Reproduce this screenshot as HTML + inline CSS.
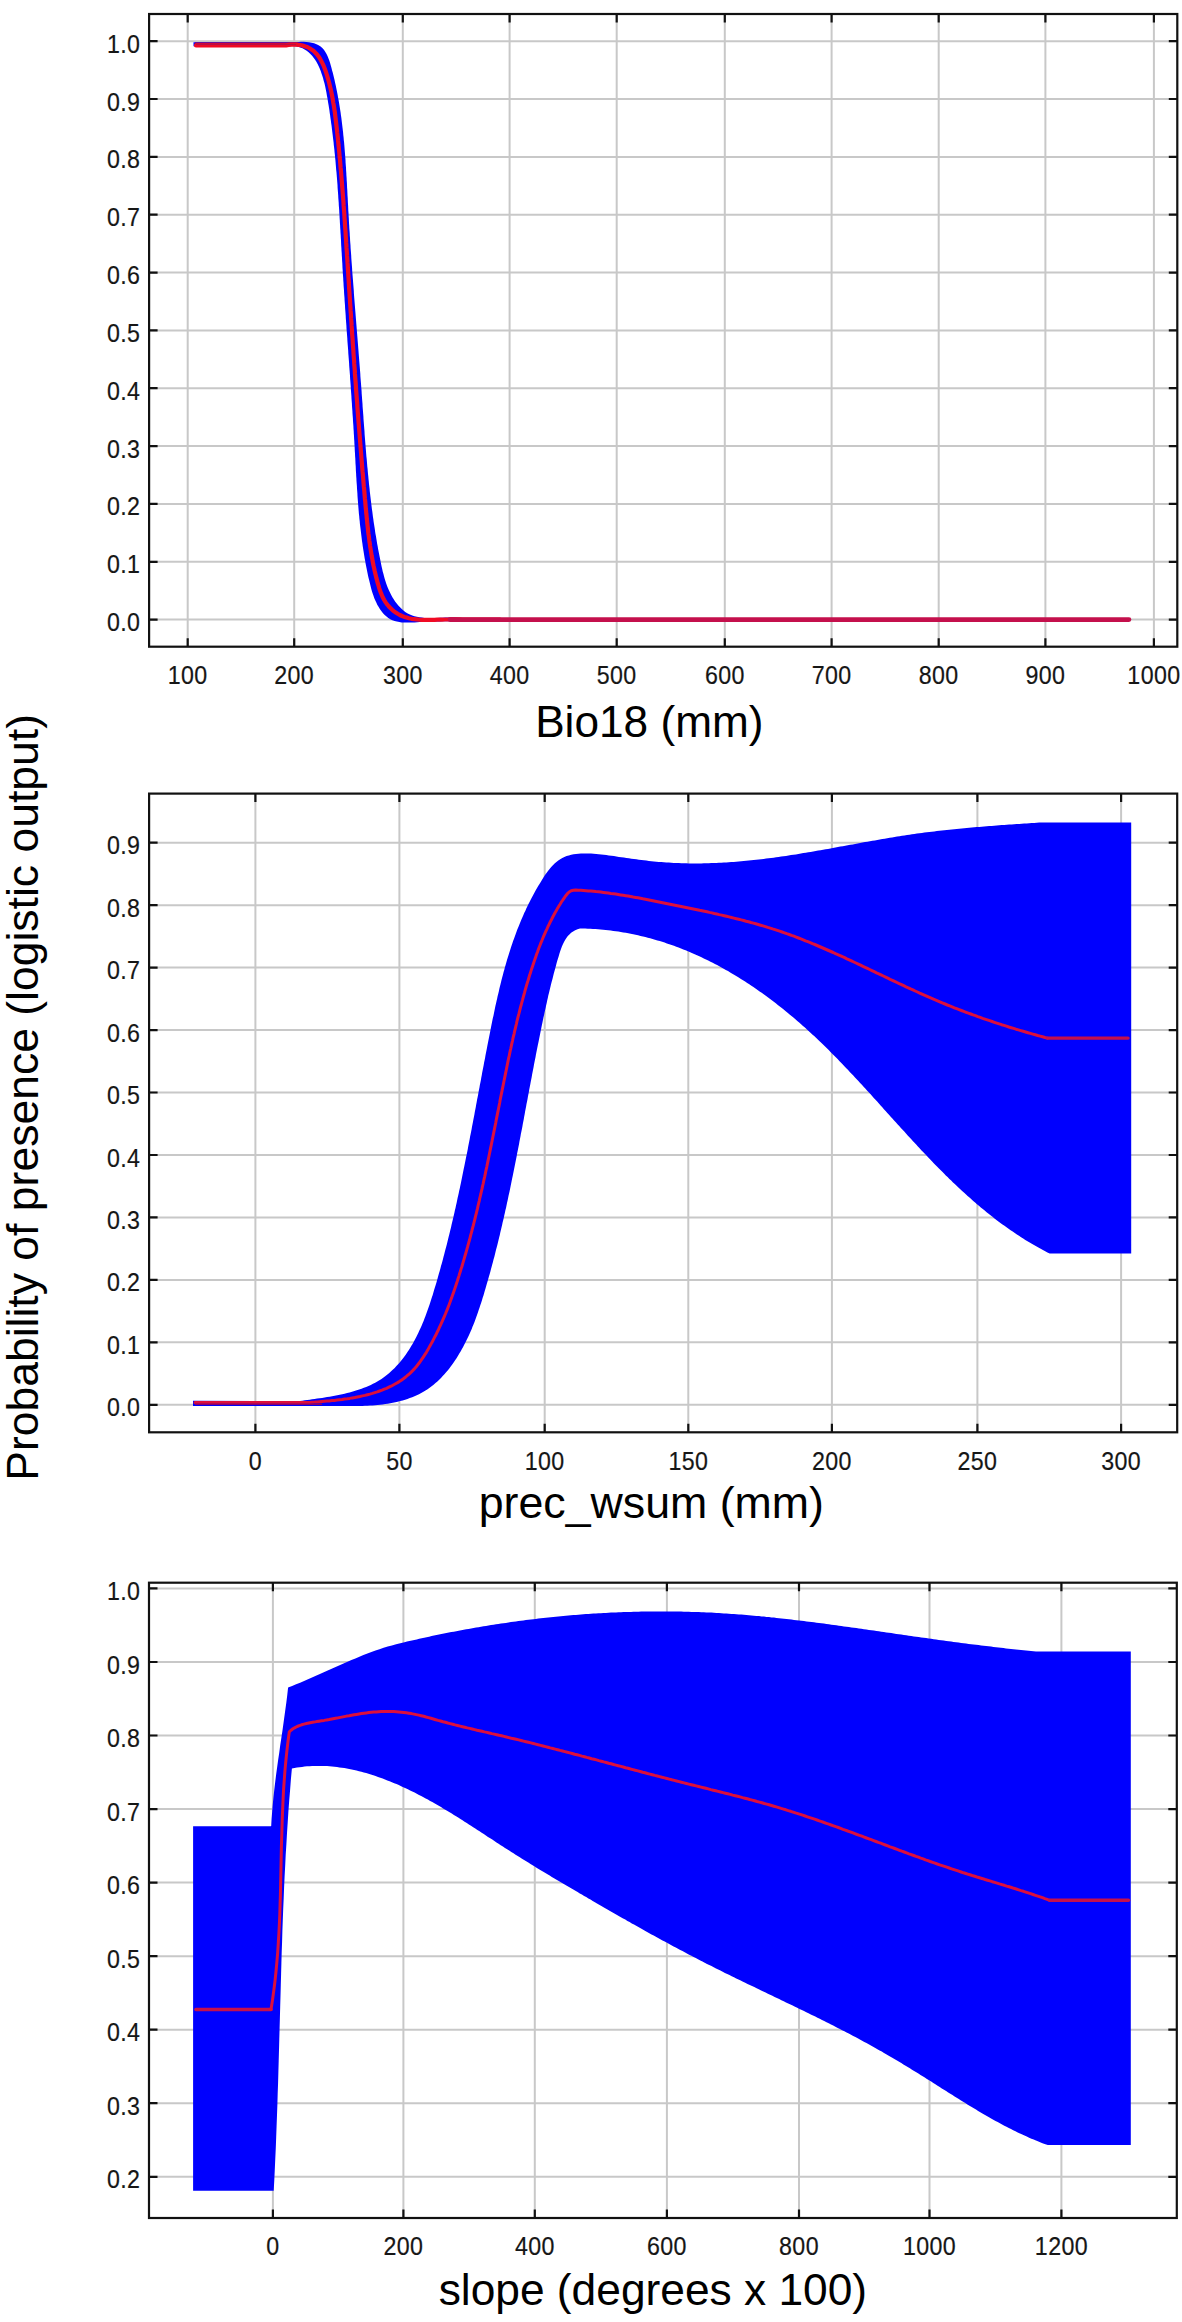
<!DOCTYPE html>
<html><head><meta charset="utf-8"><title>Response curves</title>
<style>html,body{margin:0;padding:0;background:#fff;width:1182px;height:2322px;overflow:hidden}svg{display:block}</style>
</head><body>
<svg width="1182" height="2322" viewBox="0 0 1182 2322">
<rect width="1182" height="2322" fill="#fff"/>
<g stroke="#c8c8c8" stroke-width="2"><line x1="187.7" y1="15" x2="187.7" y2="645.7"/><line x1="294.2" y1="15" x2="294.2" y2="645.7"/><line x1="402.8" y1="15" x2="402.8" y2="645.7"/><line x1="509.6" y1="15" x2="509.6" y2="645.7"/><line x1="616.7" y1="15" x2="616.7" y2="645.7"/><line x1="724.8" y1="15" x2="724.8" y2="645.7"/><line x1="831.6" y1="15" x2="831.6" y2="645.7"/><line x1="938.7" y1="15" x2="938.7" y2="645.7"/><line x1="1045.4" y1="15" x2="1045.4" y2="645.7"/><line x1="1153.9" y1="15" x2="1153.9" y2="645.7"/><line x1="150.1" y1="619.6" x2="1176.3" y2="619.6"/><line x1="150.1" y1="561.8" x2="1176.3" y2="561.8"/><line x1="150.1" y1="503.9" x2="1176.3" y2="503.9"/><line x1="150.1" y1="446.1" x2="1176.3" y2="446.1"/><line x1="150.1" y1="388.2" x2="1176.3" y2="388.2"/><line x1="150.1" y1="330.4" x2="1176.3" y2="330.4"/><line x1="150.1" y1="272.6" x2="1176.3" y2="272.6"/><line x1="150.1" y1="214.7" x2="1176.3" y2="214.7"/><line x1="150.1" y1="156.9" x2="1176.3" y2="156.9"/><line x1="150.1" y1="99" x2="1176.3" y2="99"/><line x1="150.1" y1="41.2" x2="1176.3" y2="41.2"/></g>
<g stroke="#c8c8c8" stroke-width="2"><line x1="255.4" y1="794.6" x2="255.4" y2="1431.3"/><line x1="399.4" y1="794.6" x2="399.4" y2="1431.3"/><line x1="544.7" y1="794.6" x2="544.7" y2="1431.3"/><line x1="688.3" y1="794.6" x2="688.3" y2="1431.3"/><line x1="831.9" y1="794.6" x2="831.9" y2="1431.3"/><line x1="977.4" y1="794.6" x2="977.4" y2="1431.3"/><line x1="1121.1" y1="794.6" x2="1121.1" y2="1431.3"/><line x1="150.1" y1="1404.8" x2="1176.2" y2="1404.8"/><line x1="150.1" y1="1342.3" x2="1176.2" y2="1342.3"/><line x1="150.1" y1="1279.9" x2="1176.2" y2="1279.9"/><line x1="150.1" y1="1217.4" x2="1176.2" y2="1217.4"/><line x1="150.1" y1="1155" x2="1176.2" y2="1155"/><line x1="150.1" y1="1092.5" x2="1176.2" y2="1092.5"/><line x1="150.1" y1="1030.1" x2="1176.2" y2="1030.1"/><line x1="150.1" y1="967.6" x2="1176.2" y2="967.6"/><line x1="150.1" y1="905.2" x2="1176.2" y2="905.2"/><line x1="150.1" y1="842.7" x2="1176.2" y2="842.7"/></g>
<g stroke="#c8c8c8" stroke-width="2"><line x1="272.9" y1="1583.7" x2="272.9" y2="2217"/><line x1="403.4" y1="1583.7" x2="403.4" y2="2217"/><line x1="534.8" y1="1583.7" x2="534.8" y2="2217"/><line x1="666.9" y1="1583.7" x2="666.9" y2="2217"/><line x1="799" y1="1583.7" x2="799" y2="2217"/><line x1="929.5" y1="1583.7" x2="929.5" y2="2217"/><line x1="1061.4" y1="1583.7" x2="1061.4" y2="2217"/><line x1="150" y1="2176.8" x2="1175.8" y2="2176.8"/><line x1="150" y1="2103.2" x2="1175.8" y2="2103.2"/><line x1="150" y1="2029.7" x2="1175.8" y2="2029.7"/><line x1="150" y1="1956.2" x2="1175.8" y2="1956.2"/><line x1="150" y1="1882.6" x2="1175.8" y2="1882.6"/><line x1="150" y1="1809.1" x2="1175.8" y2="1809.1"/><line x1="150" y1="1735.5" x2="1175.8" y2="1735.5"/><line x1="150" y1="1662" x2="1175.8" y2="1662"/><line x1="150" y1="1588.4" x2="1175.8" y2="1588.4"/></g>
<path d="M193.5 42.3 L296 42.3 L298.5 42 L301.1 41.8 L303.8 41.8 L306.4 41.9 L309.1 42.2 L311.6 42.7 L314.1 43.3 L316.5 44.2 L318.6 45.3 L320.6 46.6 L322.3 48.1 L323.9 49.8 L325.2 51.7 L326.4 53.7 L327.5 55.9 L328.4 58.2 L329.3 60.5 L330.1 62.9 L330.8 65.4 L331.5 67.9 L332.1 70.4 L332.8 72.8 L333.4 75.3 L334 77.8 L334.6 80.3 L335.1 82.7 L335.7 85.2 L336.2 87.7 L336.7 90.2 L337.2 92.7 L337.7 95.2 L338.1 97.7 L338.6 100.2 L339 102.6 L339.4 105.1 L339.8 107.6 L340.2 110.1 L340.6 112.6 L340.9 115.1 L341.3 117.6 L341.6 120.1 L341.9 122.6 L342.2 125.1 L342.5 127.6 L342.8 130.1 L343.1 132.6 L343.3 135.1 L343.6 137.6 L343.8 140.1 L344.1 142.6 L344.3 145.1 L344.5 147.6 L344.7 150.1 L344.9 152.6 L345.1 155.1 L345.3 157.6 L345.5 160.1 L345.6 162.7 L345.8 165.2 L346 167.7 L346.1 170.2 L346.3 172.7 L346.4 175.2 L346.6 177.7 L346.7 180.2 L346.9 182.7 L347 185.2 L347.1 187.8 L347.3 190.3 L347.4 192.8 L347.5 195.3 L347.7 197.8 L347.8 200.3 L347.9 202.8 L348.1 205.4 L348.2 207.9 L348.3 210.4 L348.5 212.9 L348.6 215.4 L348.8 217.9 L348.9 220.4 L349 222.9 L349.2 225.5 L349.3 228 L349.5 230.5 L349.7 233 L349.8 235.5 L350 238 L350.1 240.5 L350.3 243.1 L350.5 245.6 L350.6 248.1 L350.8 250.6 L351 253.1 L351.2 255.6 L351.3 258.1 L351.5 260.7 L351.7 263.2 L351.9 265.7 L352.1 268.2 L352.2 270.7 L352.4 273.2 L352.6 275.7 L352.8 278.3 L353 280.8 L353.2 283.3 L353.4 285.8 L353.6 288.3 L353.8 290.8 L353.9 293.3 L354.1 295.9 L354.3 298.4 L354.5 300.9 L354.7 303.4 L354.9 305.9 L355.1 308.4 L355.3 310.9 L355.5 313.5 L355.7 316 L355.9 318.5 L356.1 321 L356.3 323.5 L356.5 326 L356.7 328.5 L356.9 331 L357.1 333.6 L357.3 336.1 L357.5 338.6 L357.7 341.1 L357.9 343.6 L358.1 346.1 L358.3 348.6 L358.5 351.1 L358.7 353.7 L358.9 356.2 L359.1 358.7 L359.3 361.2 L359.5 363.7 L359.7 366.2 L359.9 368.7 L360.1 371.2 L360.3 373.8 L360.4 376.3 L360.6 378.8 L360.8 381.3 L361 383.8 L361.2 386.3 L361.4 388.8 L361.6 391.3 L361.7 393.8 L361.9 396.3 L362.1 398.9 L362.3 401.4 L362.5 403.9 L362.6 406.4 L362.8 408.9 L363 411.4 L363.2 413.9 L363.4 416.4 L363.5 418.9 L363.7 421.4 L363.9 423.9 L364.1 426.5 L364.3 429 L364.5 431.5 L364.6 434 L364.8 436.5 L365 439 L365.2 441.5 L365.4 444 L365.6 446.5 L365.8 449 L366 451.5 L366.2 454 L366.4 456.5 L366.7 459 L366.9 461.5 L367.1 464 L367.3 466.5 L367.6 469 L367.8 471.5 L368 474 L368.3 476.6 L368.5 479.1 L368.8 481.6 L369 484.1 L369.3 486.6 L369.6 489.1 L369.8 491.6 L370.1 494.1 L370.4 496.6 L370.7 499.1 L371 501.6 L371.3 504.1 L371.6 506.6 L371.9 509.1 L372.3 511.6 L372.6 514.1 L372.9 516.5 L373.3 519 L373.6 521.5 L374 524 L374.4 526.5 L374.8 529 L375.1 531.5 L375.5 534 L376 536.5 L376.4 539 L376.8 541.5 L377.2 544 L377.7 546.5 L378.1 549 L378.6 551.5 L379.1 554 L379.6 556.5 L380.1 558.9 L380.6 561.4 L381.1 563.9 L381.6 566.4 L382.2 568.9 L382.7 571.4 L383.4 573.8 L384 576.3 L384.7 578.7 L385.4 581.1 L386.2 583.5 L387.1 585.9 L388 588.2 L389 590.5 L390.1 592.7 L391.2 595 L392.4 597.2 L393.7 599.3 L395.1 601.4 L396.7 603.5 L398.3 605.4 L400 607.3 L401.8 609.1 L403.7 610.7 L405.6 612.2 L407.7 613.5 L409.9 614.6 L412.2 615.5 L414.5 616.2 L416.9 616.8 L419.3 617.3 L421.8 617.6 L424.4 617.9 L426.9 618 L429.5 618.1 L432.2 618.1 L434.8 618 L437.4 617.9 L440.1 617.8 L442.7 617.7 L445.3 617.6 L447.8 617.5 L450.4 617.5 L452.9 617.5 L455.3 617.6 L457.7 617.7 L460 618 L460 621.4 L457.5 621.4 L455 621.3 L452.4 621.3 L449.9 621.3 L447.5 621.3 L445 621.3 L442.5 621.3 L440 621.4 L437.5 621.4 L435 621.5 L432.5 621.6 L430 621.6 L427.4 621.7 L424.9 621.9 L422.3 622 L419.7 622.1 L417.1 622.3 L414.5 622.4 L411.9 622.6 L409.3 622.6 L406.8 622.6 L404.2 622.6 L401.7 622.4 L399.3 622.1 L396.9 621.6 L394.6 621 L392.4 620.2 L390.3 619.2 L388.3 618 L386.5 616.5 L384.7 614.9 L383 613.2 L381.5 611.3 L380 609.2 L378.7 607.1 L377.4 604.9 L376.3 602.6 L375.2 600.3 L374.2 597.9 L373.4 595.5 L372.5 593.1 L371.8 590.7 L371.1 588.3 L370.5 585.8 L369.9 583.3 L369.3 580.8 L368.7 578.4 L368.1 575.9 L367.6 573.4 L367.1 570.9 L366.6 568.5 L366.1 566 L365.6 563.5 L365.2 561 L364.7 558.5 L364.3 556 L363.9 553.6 L363.5 551.1 L363.1 548.6 L362.7 546.1 L362.4 543.6 L362 541.1 L361.7 538.6 L361.4 536.1 L361.1 533.6 L360.8 531.1 L360.5 528.6 L360.2 526.2 L359.9 523.7 L359.7 521.2 L359.4 518.7 L359.2 516.2 L358.9 513.7 L358.7 511.2 L358.5 508.7 L358.3 506.2 L358.1 503.7 L357.9 501.2 L357.7 498.7 L357.5 496.1 L357.4 493.6 L357.2 491.1 L357 488.6 L356.9 486.1 L356.7 483.6 L356.5 481.1 L356.4 478.6 L356.2 476.1 L356.1 473.6 L355.9 471.1 L355.8 468.6 L355.7 466.1 L355.5 463.6 L355.4 461.1 L355.3 458.6 L355.1 456.1 L355 453.5 L354.8 451 L354.7 448.5 L354.6 446 L354.4 443.5 L354.3 441 L354.1 438.5 L354 436 L353.8 433.5 L353.7 431 L353.5 428.5 L353.4 426 L353.2 423.5 L353 421 L352.9 418.4 L352.7 415.9 L352.5 413.4 L352.4 410.9 L352.2 408.4 L352 405.9 L351.9 403.4 L351.7 400.9 L351.5 398.4 L351.4 395.9 L351.2 393.4 L351 390.9 L350.8 388.4 L350.7 385.9 L350.5 383.4 L350.3 380.8 L350.1 378.3 L350 375.8 L349.8 373.3 L349.6 370.8 L349.4 368.3 L349.2 365.8 L349.1 363.3 L348.9 360.8 L348.7 358.3 L348.5 355.8 L348.3 353.3 L348.2 350.8 L348 348.3 L347.8 345.7 L347.6 343.2 L347.4 340.7 L347.3 338.2 L347.1 335.7 L346.9 333.2 L346.7 330.7 L346.5 328.2 L346.4 325.7 L346.2 323.2 L346 320.7 L345.8 318.2 L345.7 315.7 L345.5 313.1 L345.3 310.6 L345.1 308.1 L345 305.6 L344.8 303.1 L344.6 300.6 L344.5 298.1 L344.3 295.6 L344.1 293.1 L344 290.6 L343.8 288.1 L343.6 285.5 L343.5 283 L343.3 280.5 L343.2 278 L343 275.5 L342.8 273 L342.7 270.5 L342.5 268 L342.4 265.5 L342.3 263 L342.1 260.4 L342 257.9 L341.8 255.4 L341.7 252.9 L341.5 250.4 L341.4 247.9 L341.2 245.4 L341.1 242.9 L341 240.3 L340.8 237.8 L340.7 235.3 L340.5 232.8 L340.4 230.3 L340.2 227.8 L340.1 225.3 L339.9 222.8 L339.8 220.3 L339.6 217.8 L339.5 215.2 L339.3 212.7 L339.2 210.2 L339 207.7 L338.8 205.2 L338.7 202.7 L338.5 200.2 L338.3 197.7 L338.2 195.2 L338 192.7 L337.8 190.2 L337.6 187.7 L337.5 185.1 L337.3 182.6 L337.1 180.1 L336.9 177.6 L336.7 175.1 L336.5 172.6 L336.2 170.1 L336 167.6 L335.8 165.1 L335.6 162.6 L335.4 160.1 L335.1 157.6 L334.9 155.1 L334.6 152.6 L334.4 150.1 L334.1 147.6 L333.8 145.1 L333.6 142.6 L333.3 140.2 L333 137.7 L332.7 135.2 L332.4 132.7 L332.1 130.2 L331.8 127.7 L331.5 125.2 L331.1 122.7 L330.8 120.2 L330.4 117.8 L330.1 115.3 L329.7 112.8 L329.4 110.3 L329 107.8 L328.6 105.3 L328.2 102.9 L327.8 100.4 L327.4 97.9 L326.9 95.4 L326.5 93 L326 90.5 L325.5 88 L325 85.6 L324.4 83.1 L323.7 80.7 L323.1 78.2 L322.3 75.8 L321.5 73.4 L320.7 71 L319.7 68.6 L318.7 66.3 L317.6 64 L316.4 61.8 L315.1 59.7 L313.6 57.7 L312.1 55.8 L310.4 54 L308.6 52.3 L306.7 50.8 L304.6 49.4 L302.5 48.3 L300.2 47.4 L297.8 46.7 L295.3 46.3 L292.7 46.1 L290 46.3 L193.5 46.3 Z" fill="#0000fe"/>
<line x1="195" y1="43.6" x2="298" y2="43.6" stroke="#7a0078" stroke-width="2.6"/>
<path d="M196 45.4 L286 45.4 L288.6 44.9 L291.3 44.6 L293.9 44.5 L296.5 44.6 L299 44.8 L301.5 45.3 L303.9 45.9 L306.3 46.7 L308.5 47.7 L310.6 48.9 L312.6 50.2 L314.4 51.7 L316.1 53.4 L317.6 55.2 L319 57.1 L320.3 59.2 L321.5 61.4 L322.6 63.6 L323.7 65.9 L324.6 68.3 L325.5 70.7 L326.3 73.2 L327.1 75.6 L327.8 78.1 L328.5 80.5 L329.2 83 L329.8 85.5 L330.4 87.9 L331 90.4 L331.5 92.9 L332 95.3 L332.5 97.8 L332.9 100.3 L333.3 102.8 L333.8 105.3 L334.1 107.7 L334.5 110.2 L334.9 112.7 L335.2 115.2 L335.5 117.7 L335.8 120.2 L336.1 122.7 L336.4 125.2 L336.7 127.7 L337 130.2 L337.2 132.7 L337.5 135.2 L337.8 137.7 L338 140.2 L338.3 142.6 L338.5 145.1 L338.8 147.6 L339 150.1 L339.3 152.6 L339.5 155.1 L339.7 157.6 L340 160.1 L340.2 162.6 L340.4 165.1 L340.6 167.7 L340.9 170.2 L341.1 172.7 L341.3 175.2 L341.5 177.7 L341.7 180.2 L341.9 182.7 L342.1 185.2 L342.3 187.7 L342.5 190.2 L342.7 192.7 L342.9 195.2 L343.1 197.7 L343.3 200.2 L343.5 202.7 L343.6 205.2 L343.8 207.7 L344 210.2 L344.2 212.7 L344.4 215.3 L344.5 217.8 L344.7 220.3 L344.9 222.8 L345 225.3 L345.2 227.8 L345.4 230.3 L345.6 232.8 L345.7 235.3 L345.9 237.8 L346.1 240.3 L346.2 242.9 L346.4 245.4 L346.5 247.9 L346.7 250.4 L346.9 252.9 L347 255.4 L347.2 257.9 L347.4 260.4 L347.5 262.9 L347.7 265.4 L347.8 268 L348 270.5 L348.2 273 L348.3 275.5 L348.5 278 L348.7 280.5 L348.8 283 L349 285.5 L349.1 288 L349.3 290.6 L349.5 293.1 L349.6 295.6 L349.8 298.1 L350 300.6 L350.1 303.1 L350.3 305.6 L350.5 308.1 L350.6 310.7 L350.8 313.2 L351 315.7 L351.1 318.2 L351.3 320.7 L351.5 323.2 L351.6 325.7 L351.8 328.2 L352 330.7 L352.1 333.3 L352.3 335.8 L352.5 338.3 L352.7 340.8 L352.8 343.3 L353 345.8 L353.2 348.3 L353.4 350.8 L353.5 353.3 L353.7 355.9 L353.9 358.4 L354.1 360.9 L354.2 363.4 L354.4 365.9 L354.6 368.4 L354.8 370.9 L354.9 373.4 L355.1 375.9 L355.3 378.4 L355.5 381 L355.7 383.5 L355.9 386 L356 388.5 L356.2 391 L356.4 393.5 L356.6 396 L356.8 398.5 L357 401 L357.2 403.5 L357.3 406 L357.5 408.5 L357.7 411.1 L357.9 413.6 L358.1 416.1 L358.3 418.6 L358.5 421.1 L358.7 423.6 L358.9 426.1 L359.1 428.6 L359.3 431.1 L359.5 433.6 L359.7 436.1 L359.9 438.6 L360.1 441.1 L360.3 443.6 L360.5 446.1 L360.7 448.6 L360.9 451.1 L361.1 453.6 L361.3 456.1 L361.5 458.7 L361.7 461.2 L361.9 463.7 L362.1 466.2 L362.3 468.7 L362.5 471.2 L362.8 473.7 L363 476.2 L363.2 478.7 L363.4 481.2 L363.6 483.7 L363.8 486.2 L364.1 488.7 L364.3 491.2 L364.5 493.7 L364.7 496.2 L364.9 498.7 L365.2 501.2 L365.4 503.7 L365.6 506.2 L365.8 508.6 L366.1 511.1 L366.3 513.6 L366.6 516.1 L366.8 518.6 L367.1 521.1 L367.3 523.6 L367.6 526.1 L367.9 528.6 L368.1 531.1 L368.4 533.6 L368.8 536.1 L369.1 538.6 L369.4 541.1 L369.8 543.6 L370.1 546.1 L370.5 548.5 L370.9 551 L371.3 553.5 L371.7 556 L372.2 558.5 L372.6 561 L373.1 563.5 L373.6 566 L374.2 568.5 L374.7 571 L375.3 573.4 L375.9 575.9 L376.5 578.4 L377.2 580.9 L377.8 583.4 L378.6 585.9 L379.3 588.3 L380.1 590.8 L381 593.2 L382 595.5 L383 597.8 L384.2 600 L385.5 602.1 L386.9 604.1 L388.5 606 L390.1 607.8 L391.9 609.5 L393.7 611.1 L395.7 612.5 L397.7 613.8 L399.8 615 L402 616 L404.3 616.9 L406.6 617.6 L409 618.3 L411.5 618.8 L413.9 619.1 L416.4 619.4 L419 619.7 L421.6 619.8 L424.2 619.9 L426.8 619.9 L429.4 619.9 L432 619.8 L434.6 619.8 L437.2 619.7 L439.8 619.6 L442.4 619.6 L445 619.5 L447.5 619.5 L450 619.4 L452.5 619.4 L455 619.4 L457.5 619.4 L460 619.4 L462.4 619.5 L464.9 619.5 L467.4 619.5 L469.8 619.5 L472.3 619.6 L474.8 619.6 L477.2 619.6 L479.7 619.6 L482.2 619.7 L484.7 619.7 L487.2 619.7 L489.7 619.7 L492.3 619.7 L494.8 619.7 L497.4 619.6 L500 619.6" fill="none" stroke="#f00a24" stroke-width="4.2" stroke-linecap="round" stroke-linejoin="round"/>
<line x1="296" y1="44.4" x2="196" y2="44.4" stroke="#b0104a" stroke-width="1"/>
<line x1="450" y1="619.6" x2="1129" y2="619.6" stroke="#c4104c" stroke-width="4.6" stroke-linecap="round"/>
<path d="M193 1400.8 L300 1401 L302.4 1400.7 L304.8 1400.3 L307.2 1400 L309.7 1399.7 L312.1 1399.3 L314.6 1399 L317.1 1398.6 L319.6 1398.3 L322.1 1397.9 L324.6 1397.5 L327.1 1397.1 L329.6 1396.7 L332.1 1396.2 L334.7 1395.8 L337.2 1395.3 L339.7 1394.8 L342.2 1394.2 L344.6 1393.7 L347.1 1393.1 L349.6 1392.4 L352 1391.8 L354.4 1391.1 L356.8 1390.3 L359.2 1389.5 L361.6 1388.7 L363.9 1387.8 L366.2 1386.9 L368.5 1385.9 L370.8 1384.9 L373 1383.8 L375.2 1382.7 L377.3 1381.5 L379.4 1380.2 L381.5 1378.9 L383.5 1377.5 L385.5 1376 L387.4 1374.5 L389.3 1373 L391.1 1371.3 L393 1369.6 L394.7 1367.9 L396.4 1366.1 L398.1 1364.3 L399.7 1362.4 L401.3 1360.4 L402.9 1358.4 L404.4 1356.4 L405.9 1354.4 L407.3 1352.3 L408.7 1350.2 L410.1 1348 L411.4 1345.8 L412.7 1343.7 L413.9 1341.4 L415.1 1339.2 L416.3 1336.9 L417.4 1334.7 L418.5 1332.4 L419.6 1330.1 L420.7 1327.8 L421.7 1325.5 L422.6 1323.2 L423.6 1320.9 L424.5 1318.5 L425.4 1316.2 L426.3 1313.8 L427.1 1311.5 L428 1309.1 L428.8 1306.8 L429.6 1304.4 L430.4 1302 L431.1 1299.7 L431.9 1297.3 L432.7 1294.9 L433.4 1292.5 L434.1 1290.1 L434.8 1287.7 L435.6 1285.3 L436.3 1282.9 L437 1280.5 L437.7 1278.1 L438.3 1275.7 L439 1273.3 L439.7 1270.9 L440.4 1268.5 L441 1266.1 L441.7 1263.7 L442.4 1261.3 L443 1258.9 L443.6 1256.5 L444.3 1254.1 L444.9 1251.6 L445.5 1249.2 L446.2 1246.8 L446.8 1244.4 L447.4 1241.9 L448 1239.5 L448.6 1237.1 L449.2 1234.7 L449.8 1232.2 L450.4 1229.8 L451 1227.4 L451.5 1224.9 L452.1 1222.5 L452.7 1220.1 L453.3 1217.6 L453.8 1215.2 L454.4 1212.7 L454.9 1210.3 L455.5 1207.9 L456 1205.4 L456.6 1203 L457.1 1200.5 L457.6 1198.1 L458.2 1195.6 L458.7 1193.2 L459.2 1190.7 L459.8 1188.3 L460.3 1185.8 L460.8 1183.4 L461.3 1180.9 L461.8 1178.5 L462.3 1176 L462.8 1173.6 L463.3 1171.1 L463.8 1168.6 L464.3 1166.2 L464.8 1163.7 L465.3 1161.3 L465.8 1158.8 L466.3 1156.3 L466.8 1153.9 L467.3 1151.4 L467.8 1149 L468.2 1146.5 L468.7 1144 L469.2 1141.6 L469.7 1139.1 L470.1 1136.6 L470.6 1134.2 L471.1 1131.7 L471.6 1129.2 L472 1126.8 L472.5 1124.3 L473 1121.8 L473.4 1119.4 L473.9 1116.9 L474.4 1114.4 L474.8 1112 L475.3 1109.5 L475.8 1107 L476.2 1104.6 L476.7 1102.1 L477.1 1099.6 L477.6 1097.2 L478.1 1094.7 L478.5 1092.2 L479 1089.8 L479.5 1087.3 L479.9 1084.8 L480.4 1082.4 L480.9 1079.9 L481.3 1077.4 L481.8 1075 L482.2 1072.5 L482.7 1070 L483.2 1067.6 L483.7 1065.1 L484.1 1062.6 L484.6 1060.2 L485.1 1057.7 L485.5 1055.2 L486 1052.8 L486.5 1050.3 L487 1047.8 L487.4 1045.4 L487.9 1042.9 L488.4 1040.5 L488.9 1038 L489.4 1035.5 L489.9 1033.1 L490.4 1030.6 L490.8 1028.2 L491.3 1025.7 L491.8 1023.3 L492.3 1020.8 L492.8 1018.3 L493.4 1015.9 L493.9 1013.4 L494.4 1011 L494.9 1008.5 L495.4 1006.1 L496 1003.6 L496.5 1001.2 L497.1 998.8 L497.6 996.3 L498.2 993.9 L498.8 991.5 L499.3 989 L499.9 986.6 L500.5 984.2 L501.1 981.7 L501.7 979.3 L502.3 976.9 L503 974.5 L503.6 972.1 L504.3 969.7 L504.9 967.3 L505.6 964.9 L506.3 962.5 L507 960.1 L507.7 957.7 L508.5 955.3 L509.2 952.9 L510 950.5 L510.7 948.2 L511.5 945.8 L512.3 943.4 L513.1 941.1 L514 938.7 L514.8 936.4 L515.7 934 L516.5 931.7 L517.4 929.3 L518.4 927 L519.3 924.7 L520.2 922.4 L521.2 920.1 L522.2 917.7 L523.2 915.4 L524.2 913.1 L525.3 910.9 L526.3 908.6 L527.4 906.3 L528.5 904 L529.7 901.8 L530.8 899.5 L532 897.2 L533.2 895 L534.4 892.8 L535.6 890.5 L536.9 888.3 L538.2 886.1 L539.5 883.9 L540.9 881.7 L542.2 879.5 L543.6 877.3 L545 875.1 L546.5 873 L548 871 L549.6 869 L551.2 867.1 L552.9 865.2 L554.6 863.5 L556.4 861.9 L558.3 860.5 L560.2 859.2 L562.3 858 L564.4 857 L566.6 856.1 L568.9 855.4 L571.2 854.8 L573.6 854.3 L576 854 L578.5 853.7 L580.9 853.5 L583.5 853.4 L586 853.4 L588.5 853.5 L591.1 853.6 L593.6 853.7 L596.2 853.9 L598.7 854.2 L601.3 854.5 L603.8 854.8 L606.3 855.1 L608.8 855.4 L611.4 855.8 L613.9 856.1 L616.4 856.5 L618.9 856.9 L621.4 857.2 L623.9 857.6 L626.4 857.9 L628.9 858.3 L631.4 858.7 L633.9 859 L636.4 859.3 L638.9 859.7 L641.4 860 L643.9 860.3 L646.4 860.6 L648.9 860.9 L651.4 861.2 L653.8 861.4 L656.3 861.7 L658.8 861.9 L661.3 862.1 L663.8 862.3 L666.3 862.5 L668.8 862.6 L671.3 862.8 L673.8 862.9 L676.3 863 L678.8 863.1 L681.3 863.2 L683.8 863.3 L686.3 863.3 L688.8 863.4 L691.3 863.4 L693.8 863.4 L696.3 863.4 L698.8 863.4 L701.3 863.4 L703.8 863.3 L706.3 863.3 L708.8 863.2 L711.3 863.1 L713.8 863 L716.3 862.9 L718.8 862.8 L721.3 862.7 L723.8 862.6 L726.3 862.4 L728.7 862.3 L731.2 862.1 L733.7 861.9 L736.2 861.7 L738.7 861.5 L741.2 861.3 L743.7 861.1 L746.2 860.8 L748.7 860.6 L751.2 860.3 L753.7 860.1 L756.2 859.8 L758.7 859.5 L761.2 859.2 L763.7 858.9 L766.1 858.6 L768.6 858.3 L771.1 858 L773.6 857.7 L776.1 857.3 L778.6 857 L781.1 856.6 L783.5 856.3 L786 855.9 L788.5 855.5 L791 855.1 L793.4 854.7 L795.9 854.4 L798.4 854 L800.9 853.6 L803.3 853.1 L805.8 852.7 L808.3 852.3 L810.7 851.9 L813.2 851.5 L815.7 851 L818.2 850.6 L820.6 850.2 L823.1 849.7 L825.6 849.3 L828 848.9 L830.5 848.4 L832.9 848 L835.4 847.5 L837.9 847.1 L840.3 846.6 L842.8 846.2 L845.3 845.7 L847.7 845.3 L850.2 844.8 L852.7 844.4 L855.1 843.9 L857.6 843.5 L860.1 843 L862.5 842.6 L865 842.1 L867.5 841.7 L869.9 841.2 L872.4 840.8 L874.9 840.4 L877.3 839.9 L879.8 839.5 L882.3 839.1 L884.7 838.7 L887.2 838.2 L889.7 837.8 L892.1 837.4 L894.6 837 L897.1 836.6 L899.6 836.2 L902 835.8 L904.5 835.4 L907 835.1 L909.5 834.7 L911.9 834.3 L914.4 834 L916.9 833.6 L919.4 833.3 L921.9 832.9 L924.4 832.6 L926.8 832.3 L929.3 832 L931.8 831.7 L934.3 831.4 L936.8 831.1 L939.3 830.8 L941.8 830.5 L944.3 830.2 L946.8 830 L949.3 829.7 L951.7 829.4 L954.2 829.2 L956.7 828.9 L959.2 828.7 L961.7 828.4 L964.2 828.2 L966.7 828 L969.2 827.7 L971.7 827.5 L974.2 827.3 L976.7 827.1 L979.2 826.9 L981.7 826.7 L984.2 826.5 L986.7 826.3 L989.2 826.1 L991.7 825.9 L994.2 825.7 L996.7 825.5 L999.2 825.3 L1001.7 825.1 L1004.2 824.9 L1006.7 824.7 L1009.2 824.6 L1011.7 824.4 L1014.2 824.2 L1016.7 824.1 L1019.2 823.9 L1021.7 823.7 L1024.2 823.5 L1026.7 823.4 L1029.2 823.2 L1031.7 823.1 L1034.2 822.9 L1036.7 822.7 L1039.2 822.6 L1041.7 822.4 L1131.2 822.4 L1131.2 1253.6 L1049.7 1253.6 L1047.4 1252.4 L1045.2 1251.2 L1042.9 1250 L1040.7 1248.8 L1038.4 1247.6 L1036.2 1246.3 L1034 1245.1 L1031.8 1243.8 L1029.7 1242.5 L1027.5 1241.2 L1025.3 1239.9 L1023.2 1238.5 L1021.1 1237.2 L1019 1235.8 L1016.9 1234.4 L1014.8 1233 L1012.7 1231.6 L1010.6 1230.2 L1008.6 1228.8 L1006.5 1227.3 L1004.5 1225.8 L1002.5 1224.4 L1000.4 1222.9 L998.4 1221.4 L996.4 1219.9 L994.5 1218.4 L992.5 1216.8 L990.5 1215.3 L988.6 1213.7 L986.6 1212.2 L984.7 1210.6 L982.8 1209 L980.8 1207.4 L978.9 1205.8 L977 1204.2 L975.1 1202.6 L973.2 1200.9 L971.4 1199.3 L969.5 1197.6 L967.6 1196 L965.8 1194.3 L963.9 1192.6 L962.1 1190.9 L960.3 1189.2 L958.4 1187.5 L956.6 1185.8 L954.8 1184.1 L953 1182.4 L951.2 1180.6 L949.4 1178.9 L947.6 1177.1 L945.8 1175.4 L944 1173.6 L942.3 1171.8 L940.5 1170.1 L938.7 1168.3 L937 1166.5 L935.2 1164.7 L933.5 1162.9 L931.7 1161.1 L930 1159.3 L928.3 1157.5 L926.5 1155.6 L924.8 1153.8 L923.1 1152 L921.3 1150.2 L919.6 1148.3 L917.9 1146.5 L916.2 1144.6 L914.5 1142.8 L912.8 1140.9 L911.1 1139.1 L909.4 1137.2 L907.7 1135.4 L906 1133.5 L904.3 1131.6 L902.6 1129.8 L900.9 1127.9 L899.2 1126 L897.5 1124.2 L895.8 1122.3 L894.1 1120.4 L892.4 1118.5 L890.7 1116.7 L889 1114.8 L887.3 1112.9 L885.6 1111 L883.9 1109.2 L882.3 1107.3 L880.6 1105.4 L878.9 1103.5 L877.2 1101.6 L875.5 1099.8 L873.8 1097.9 L872.1 1096 L870.4 1094.1 L868.7 1092.3 L867 1090.4 L865.3 1088.5 L863.6 1086.7 L861.9 1084.8 L860.1 1083 L858.4 1081.1 L856.7 1079.2 L855 1077.4 L853.3 1075.5 L851.5 1073.7 L849.8 1071.9 L848.1 1070 L846.3 1068.2 L844.6 1066.4 L842.8 1064.5 L841.1 1062.7 L839.3 1060.9 L837.6 1059.1 L835.8 1057.3 L834 1055.5 L832.2 1053.7 L830.5 1051.9 L828.7 1050.1 L826.9 1048.3 L825.1 1046.6 L823.3 1044.8 L821.5 1043.1 L819.6 1041.3 L817.8 1039.6 L816 1037.8 L814.2 1036.1 L812.3 1034.4 L810.5 1032.7 L808.6 1031 L806.7 1029.3 L804.9 1027.6 L803 1025.9 L801.1 1024.2 L799.2 1022.6 L797.3 1020.9 L795.4 1019.3 L793.4 1017.6 L791.5 1016 L789.6 1014.4 L787.6 1012.8 L785.7 1011.2 L783.7 1009.6 L781.8 1008 L779.8 1006.4 L777.8 1004.9 L775.8 1003.3 L773.8 1001.8 L771.8 1000.3 L769.8 998.8 L767.8 997.3 L765.8 995.8 L763.7 994.3 L761.7 992.8 L759.6 991.4 L757.6 989.9 L755.5 988.5 L753.4 987.1 L751.4 985.7 L749.3 984.3 L747.2 982.9 L745.1 981.6 L743 980.2 L740.9 978.9 L738.7 977.5 L736.6 976.2 L734.5 974.9 L732.3 973.7 L730.2 972.4 L728 971.1 L725.8 969.9 L723.7 968.7 L721.5 967.5 L719.3 966.3 L717.1 965.1 L714.9 963.9 L712.7 962.8 L710.5 961.7 L708.2 960.5 L706 959.4 L703.8 958.4 L701.5 957.3 L699.3 956.2 L697 955.2 L694.7 954.2 L692.4 953.2 L690.2 952.2 L687.9 951.2 L685.6 950.3 L683.3 949.4 L681 948.5 L678.6 947.6 L676.3 946.7 L674 945.8 L671.6 945 L669.3 944.2 L666.9 943.4 L664.6 942.6 L662.2 941.8 L659.8 941.1 L657.4 940.4 L655 939.7 L652.6 939 L650.2 938.3 L647.8 937.7 L645.4 937 L643 936.4 L640.5 935.9 L638.1 935.3 L635.6 934.8 L633.2 934.2 L630.7 933.7 L628.3 933.3 L625.8 932.8 L623.3 932.4 L620.8 932 L618.3 931.6 L615.8 931.2 L613.3 930.9 L610.8 930.5 L608.2 930.2 L605.7 930 L603.2 929.7 L600.6 929.5 L598.1 929.3 L595.5 929.1 L592.9 928.9 L590.4 928.8 L587.8 928.7 L585.2 928.6 L582.6 928.5 L580 928.5 L580 928.5 L577.5 929.3 L575.2 930.2 L573.1 931.4 L571.1 932.8 L569.4 934.4 L567.8 936.1 L566.4 937.9 L565.1 939.9 L564 942 L562.9 944.2 L561.9 946.5 L561 948.9 L560.2 951.3 L559.4 953.7 L558.7 956.2 L558 958.6 L557.2 961.1 L556.5 963.6 L555.9 966.1 L555.2 968.5 L554.5 971 L553.8 973.5 L553.2 975.9 L552.6 978.4 L551.9 980.9 L551.3 983.3 L550.7 985.8 L550.1 988.2 L549.5 990.7 L548.9 993.2 L548.3 995.6 L547.8 998.1 L547.2 1000.5 L546.7 1003 L546.1 1005.4 L545.6 1007.9 L545 1010.4 L544.5 1012.8 L544 1015.3 L543.4 1017.7 L542.9 1020.2 L542.4 1022.7 L541.9 1025.1 L541.4 1027.6 L540.9 1030 L540.4 1032.5 L539.9 1035 L539.4 1037.4 L538.9 1039.9 L538.4 1042.4 L537.9 1044.8 L537.4 1047.3 L536.9 1049.8 L536.4 1052.2 L535.9 1054.7 L535.5 1057.2 L535 1059.6 L534.5 1062.1 L534 1064.6 L533.6 1067 L533.1 1069.5 L532.6 1072 L532.1 1074.5 L531.7 1076.9 L531.2 1079.4 L530.7 1081.9 L530.3 1084.3 L529.8 1086.8 L529.3 1089.3 L528.9 1091.8 L528.4 1094.2 L527.9 1096.7 L527.5 1099.2 L527 1101.7 L526.5 1104.1 L526.1 1106.6 L525.6 1109.1 L525.1 1111.6 L524.7 1114 L524.2 1116.5 L523.8 1119 L523.3 1121.5 L522.8 1123.9 L522.4 1126.4 L521.9 1128.9 L521.4 1131.4 L520.9 1133.8 L520.5 1136.3 L520 1138.8 L519.5 1141.3 L519.1 1143.7 L518.6 1146.2 L518.1 1148.7 L517.6 1151.2 L517.1 1153.6 L516.7 1156.1 L516.2 1158.6 L515.7 1161 L515.2 1163.5 L514.7 1166 L514.2 1168.5 L513.7 1170.9 L513.2 1173.4 L512.7 1175.9 L512.2 1178.3 L511.7 1180.8 L511.2 1183.3 L510.7 1185.7 L510.2 1188.2 L509.7 1190.7 L509.2 1193.1 L508.6 1195.6 L508.1 1198 L507.6 1200.5 L507 1203 L506.5 1205.4 L506 1207.9 L505.4 1210.3 L504.9 1212.8 L504.3 1215.3 L503.8 1217.7 L503.2 1220.2 L502.6 1222.6 L502.1 1225.1 L501.5 1227.5 L500.9 1230 L500.3 1232.4 L499.8 1234.9 L499.2 1237.3 L498.6 1239.8 L498 1242.2 L497.4 1244.7 L496.8 1247.1 L496.1 1249.5 L495.5 1252 L494.9 1254.4 L494.3 1256.9 L493.6 1259.3 L493 1261.7 L492.3 1264.2 L491.7 1266.6 L491 1269 L490.4 1271.5 L489.7 1273.9 L489 1276.3 L488.3 1278.7 L487.6 1281.2 L486.9 1283.6 L486.2 1286 L485.5 1288.4 L484.8 1290.8 L484.1 1293.2 L483.4 1295.7 L482.6 1298.1 L481.9 1300.5 L481.1 1302.9 L480.3 1305.3 L479.5 1307.7 L478.7 1310.1 L477.9 1312.4 L477.1 1314.8 L476.2 1317.2 L475.4 1319.5 L474.5 1321.9 L473.6 1324.2 L472.6 1326.6 L471.7 1328.9 L470.7 1331.2 L469.7 1333.5 L468.7 1335.8 L467.6 1338.1 L466.5 1340.3 L465.4 1342.6 L464.2 1344.8 L463.1 1347.1 L461.8 1349.3 L460.6 1351.5 L459.3 1353.6 L458 1355.8 L456.7 1358 L455.3 1360.1 L453.8 1362.2 L452.4 1364.3 L450.9 1366.3 L449.3 1368.4 L447.7 1370.4 L446.1 1372.3 L444.4 1374.2 L442.7 1376.1 L441 1377.9 L439.2 1379.7 L437.4 1381.4 L435.5 1383.1 L433.6 1384.7 L431.6 1386.3 L429.6 1387.8 L427.6 1389.2 L425.5 1390.5 L423.4 1391.8 L421.2 1393 L419 1394.2 L416.8 1395.2 L414.5 1396.2 L412.2 1397.2 L409.8 1398.1 L407.5 1398.9 L405.1 1399.7 L402.7 1400.4 L400.2 1401.1 L397.7 1401.7 L395.3 1402.2 L392.8 1402.8 L390.3 1403.2 L387.8 1403.7 L385.2 1404 L382.7 1404.4 L380.1 1404.7 L377.6 1405 L375.1 1405.2 L372.5 1405.4 L370 1405.6 L367.4 1405.7 L364.9 1405.8 L362.4 1405.9 L359.9 1406 L357.4 1406 L354.9 1406 L352.4 1406 L350 1406 L193 1406 Z" fill="#0000fe"/>
<path d="M195 1402.4 L310 1402.4 L312.3 1402.2 L314.7 1402.1 L317.1 1401.9 L319.5 1401.7 L322 1401.5 L324.4 1401.3 L326.9 1401.1 L329.4 1400.9 L331.9 1400.6 L334.4 1400.4 L337 1400.1 L339.5 1399.8 L342.1 1399.5 L344.6 1399.1 L347.2 1398.8 L349.7 1398.4 L352.3 1397.9 L354.8 1397.5 L357.4 1397 L359.9 1396.5 L362.4 1395.9 L364.9 1395.4 L367.4 1394.7 L369.9 1394.1 L372.3 1393.4 L374.8 1392.6 L377.2 1391.9 L379.6 1391 L382 1390.2 L384.3 1389.2 L386.6 1388.3 L388.9 1387.2 L391.1 1386.2 L393.3 1385 L395.5 1383.8 L397.6 1382.6 L399.7 1381.3 L401.7 1379.9 L403.7 1378.5 L405.7 1377 L407.5 1375.4 L409.4 1373.8 L411.2 1372.1 L412.9 1370.4 L414.6 1368.6 L416.2 1366.7 L417.8 1364.7 L419.3 1362.8 L420.8 1360.7 L422.2 1358.7 L423.6 1356.6 L425 1354.4 L426.4 1352.3 L427.7 1350.1 L428.9 1347.9 L430.2 1345.6 L431.4 1343.4 L432.6 1341.2 L433.8 1338.9 L434.9 1336.7 L436.1 1334.5 L437.2 1332.2 L438.3 1330 L439.3 1327.7 L440.4 1325.4 L441.4 1323.2 L442.4 1320.9 L443.4 1318.6 L444.4 1316.3 L445.4 1314 L446.3 1311.7 L447.3 1309.3 L448.2 1307 L449.1 1304.7 L450 1302.3 L450.8 1300 L451.7 1297.6 L452.5 1295.2 L453.4 1292.9 L454.2 1290.5 L455 1288.1 L455.8 1285.7 L456.6 1283.3 L457.4 1280.9 L458.1 1278.5 L458.9 1276.1 L459.6 1273.7 L460.4 1271.3 L461.1 1268.9 L461.9 1266.5 L462.6 1264.1 L463.3 1261.7 L464 1259.3 L464.7 1256.9 L465.4 1254.5 L466.1 1252.1 L466.8 1249.7 L467.5 1247.2 L468.1 1244.8 L468.8 1242.4 L469.5 1240 L470.1 1237.6 L470.7 1235.1 L471.4 1232.7 L472 1230.3 L472.6 1227.9 L473.3 1225.4 L473.9 1223 L474.5 1220.6 L475.1 1218.1 L475.7 1215.7 L476.3 1213.3 L476.9 1210.8 L477.5 1208.4 L478 1206 L478.6 1203.5 L479.2 1201.1 L479.7 1198.6 L480.3 1196.2 L480.9 1193.7 L481.4 1191.3 L482 1188.9 L482.5 1186.4 L483.1 1184 L483.6 1181.5 L484.1 1179.1 L484.7 1176.6 L485.2 1174.2 L485.7 1171.7 L486.2 1169.3 L486.8 1166.8 L487.3 1164.3 L487.8 1161.9 L488.3 1159.4 L488.8 1157 L489.3 1154.5 L489.8 1152.1 L490.3 1149.6 L490.8 1147.1 L491.3 1144.7 L491.8 1142.2 L492.3 1139.7 L492.8 1137.3 L493.3 1134.8 L493.8 1132.4 L494.3 1129.9 L494.8 1127.4 L495.3 1125 L495.8 1122.5 L496.2 1120 L496.7 1117.6 L497.2 1115.1 L497.7 1112.6 L498.2 1110.2 L498.7 1107.7 L499.2 1105.2 L499.7 1102.8 L500.1 1100.3 L500.6 1097.8 L501.1 1095.3 L501.6 1092.9 L502.1 1090.4 L502.6 1087.9 L503.1 1085.5 L503.6 1083 L504.1 1080.5 L504.6 1078.1 L505.1 1075.6 L505.6 1073.1 L506.1 1070.7 L506.6 1068.2 L507.1 1065.7 L507.6 1063.3 L508.1 1060.8 L508.6 1058.3 L509.2 1055.9 L509.7 1053.4 L510.2 1050.9 L510.8 1048.5 L511.3 1046 L511.8 1043.6 L512.4 1041.1 L512.9 1038.7 L513.5 1036.2 L514.1 1033.8 L514.6 1031.3 L515.2 1028.9 L515.8 1026.4 L516.4 1024 L516.9 1021.5 L517.5 1019.1 L518.1 1016.7 L518.8 1014.2 L519.4 1011.8 L520 1009.4 L520.6 1006.9 L521.3 1004.5 L521.9 1002.1 L522.6 999.7 L523.2 997.3 L523.9 994.8 L524.6 992.4 L525.2 990 L525.9 987.6 L526.6 985.2 L527.3 982.8 L528.1 980.4 L528.8 978 L529.5 975.6 L530.3 973.3 L531 970.9 L531.8 968.5 L532.6 966.1 L533.4 963.8 L534.2 961.4 L535 959 L535.8 956.7 L536.6 954.3 L537.5 952 L538.3 949.6 L539.2 947.3 L540.1 945 L541 942.6 L542 940.3 L542.9 938 L543.9 935.7 L544.9 933.4 L545.9 931.1 L547 928.8 L548 926.5 L549.1 924.3 L550.2 922 L551.4 919.8 L552.5 917.5 L553.7 915.3 L554.9 913 L556.2 910.8 L557.4 908.6 L558.7 906.4 L560.1 904.2 L561.4 902 L562.9 899.9 L564.3 897.8 L565.8 895.7 L567.4 893.7 L569.2 892 L571.2 890.8 L573.4 890.3 L575.8 890.1 L578.3 890.2 L580.9 890.3 L583.4 890.5 L585.9 890.7 L588.4 890.9 L590.9 891.1 L593.4 891.3 L595.9 891.6 L598.4 891.8 L600.9 892.1 L603.4 892.4 L605.8 892.7 L608.3 893 L610.8 893.4 L613.3 893.7 L615.8 894.1 L618.2 894.5 L620.7 894.9 L623.2 895.3 L625.7 895.7 L628.1 896.1 L630.6 896.5 L633.1 897 L635.5 897.4 L638 897.8 L640.4 898.3 L642.9 898.8 L645.4 899.2 L647.8 899.7 L650.3 900.2 L652.8 900.7 L655.2 901.2 L657.7 901.7 L660.1 902.2 L662.6 902.7 L665.1 903.2 L667.5 903.7 L670 904.2 L672.5 904.7 L674.9 905.2 L677.4 905.7 L679.9 906.2 L682.3 906.7 L684.8 907.2 L687.2 907.7 L689.7 908.2 L692.2 908.7 L694.6 909.2 L697.1 909.7 L699.6 910.3 L702 910.8 L704.5 911.3 L707 911.8 L709.4 912.4 L711.9 912.9 L714.3 913.5 L716.8 914 L719.2 914.6 L721.7 915.1 L724.1 915.7 L726.6 916.3 L729 916.9 L731.5 917.5 L733.9 918.1 L736.4 918.7 L738.8 919.3 L741.2 919.9 L743.7 920.5 L746.1 921.2 L748.5 921.8 L750.9 922.5 L753.4 923.1 L755.8 923.8 L758.2 924.5 L760.6 925.2 L763 925.9 L765.4 926.6 L767.8 927.4 L770.2 928.1 L772.6 928.9 L775 929.6 L777.3 930.4 L779.7 931.2 L782.1 932 L784.5 932.8 L786.8 933.7 L789.2 934.5 L791.5 935.4 L793.9 936.2 L796.2 937.1 L798.5 938 L800.9 938.9 L803.2 939.8 L805.5 940.8 L807.9 941.7 L810.2 942.6 L812.5 943.6 L814.8 944.5 L817.1 945.5 L819.4 946.5 L821.7 947.5 L824 948.5 L826.3 949.5 L828.6 950.5 L830.9 951.5 L833.2 952.5 L835.5 953.6 L837.8 954.6 L840.1 955.6 L842.4 956.7 L844.7 957.7 L846.9 958.8 L849.2 959.8 L851.5 960.9 L853.8 962 L856 963 L858.3 964.1 L860.6 965.2 L862.9 966.3 L865.1 967.3 L867.4 968.4 L869.7 969.5 L871.9 970.6 L874.2 971.7 L876.5 972.8 L878.8 973.8 L881 974.9 L883.3 976 L885.6 977.1 L887.8 978.2 L890.1 979.3 L892.4 980.3 L894.6 981.4 L896.9 982.5 L899.2 983.6 L901.5 984.6 L903.7 985.7 L906 986.8 L908.3 987.8 L910.6 988.9 L912.9 989.9 L915.2 991 L917.4 992 L919.7 993.1 L922 994.1 L924.3 995.1 L926.6 996.1 L928.9 997.2 L931.2 998.2 L933.5 999.2 L935.8 1000.1 L938.1 1001.1 L940.4 1002.1 L942.8 1003.1 L945.1 1004 L947.4 1005 L949.7 1005.9 L952.1 1006.8 L954.4 1007.8 L956.7 1008.7 L959.1 1009.6 L961.4 1010.5 L963.7 1011.4 L966.1 1012.3 L968.4 1013.2 L970.8 1014 L973.1 1014.9 L975.5 1015.7 L977.8 1016.6 L980.2 1017.4 L982.6 1018.3 L984.9 1019.1 L987.3 1019.9 L989.7 1020.7 L992.1 1021.5 L994.4 1022.3 L996.8 1023.1 L999.2 1023.9 L1001.6 1024.7 L1004 1025.4 L1006.4 1026.2 L1008.8 1027 L1011.2 1027.7 L1013.6 1028.4 L1016 1029.2 L1018.4 1029.9 L1020.8 1030.6 L1023.2 1031.3 L1025.6 1032 L1028 1032.7 L1030.4 1033.4 L1032.8 1034.1 L1035.3 1034.8 L1037.7 1035.5 L1040.1 1036.1 L1042.5 1036.8 L1045 1037.5 L1047.4 1038.1" fill="none" stroke="#dc0f3c" stroke-width="3" stroke-linecap="round" stroke-linejoin="round"/>
<line x1="195" y1="1404.2" x2="322" y2="1404.2" stroke="#86006e" stroke-width="1.6"/>
<line x1="1047.4" y1="1038.1" x2="1128" y2="1038.1" stroke="#c4104c" stroke-width="3.4" stroke-linecap="round"/>
<path d="M193.1 2190.8 L193.1 1826.3 L270.6 1826.3 L271.2 1826 L271.6 1818.7 L272.2 1811.3 L272.8 1804 L273.5 1796.7 L274.3 1789.4 L275.2 1782.1 L276.1 1774.8 L277.1 1767.5 L278.1 1760.2 L279.2 1752.9 L280.2 1745.6 L281.3 1738.3 L282.4 1731.1 L283.4 1723.8 L284.4 1716.5 L285.4 1709.3 L286.4 1702 L287.3 1694.7 L288.1 1687.5 L288.1 1687.5 L292.1 1685.9 L296.1 1684.3 L300.1 1682.7 L304.1 1681 L308 1679.3 L312 1677.6 L315.9 1675.8 L319.9 1674 L323.8 1672.3 L327.7 1670.5 L331.7 1668.7 L335.6 1667 L339.6 1665.2 L343.5 1663.5 L347.5 1661.7 L351.4 1660 L355.4 1658.4 L359.4 1656.7 L363.4 1655.1 L367.4 1653.6 L371.4 1652.1 L375.5 1650.6 L379.5 1649.2 L383.6 1647.8 L387.7 1646.6 L391.9 1645.4 L396.1 1644.2 L400.3 1643.2 L404.5 1642.2 L404.5 1642.2 L407 1641.6 L409.4 1641.1 L411.9 1640.5 L414.3 1639.9 L416.8 1639.4 L419.2 1638.8 L421.7 1638.3 L424.2 1637.7 L426.6 1637.2 L429.1 1636.7 L431.6 1636.1 L434 1635.6 L436.5 1635.1 L439 1634.6 L441.4 1634.1 L443.9 1633.6 L446.4 1633.1 L448.8 1632.6 L451.3 1632.1 L453.8 1631.7 L456.3 1631.2 L458.7 1630.7 L461.2 1630.3 L463.7 1629.8 L466.2 1629.3 L468.6 1628.9 L471.1 1628.5 L473.6 1628 L476.1 1627.6 L478.6 1627.2 L481 1626.7 L483.5 1626.3 L486 1625.9 L488.5 1625.5 L491 1625.1 L493.5 1624.7 L496 1624.3 L498.4 1624 L500.9 1623.6 L503.4 1623.2 L505.9 1622.9 L508.4 1622.5 L510.9 1622.1 L513.4 1621.8 L515.9 1621.5 L518.4 1621.1 L520.9 1620.8 L523.4 1620.5 L525.9 1620.1 L528.4 1619.8 L530.9 1619.5 L533.3 1619.2 L535.8 1618.9 L538.3 1618.6 L540.8 1618.3 L543.3 1618 L545.8 1617.8 L548.3 1617.5 L550.8 1617.2 L553.3 1617 L555.8 1616.7 L558.3 1616.5 L560.8 1616.2 L563.3 1616 L565.9 1615.8 L568.4 1615.6 L570.9 1615.3 L573.4 1615.1 L575.9 1614.9 L578.4 1614.7 L580.9 1614.5 L583.4 1614.3 L585.9 1614.1 L588.4 1614 L590.9 1613.8 L593.4 1613.6 L595.9 1613.5 L598.4 1613.3 L600.9 1613.2 L603.4 1613 L605.9 1612.9 L608.5 1612.8 L611 1612.6 L613.5 1612.5 L616 1612.4 L618.5 1612.3 L621 1612.2 L623.5 1612.1 L626 1612 L628.5 1611.9 L631 1611.9 L633.5 1611.8 L636.1 1611.7 L638.6 1611.7 L641.1 1611.6 L643.6 1611.6 L646.1 1611.5 L648.6 1611.5 L651.1 1611.5 L653.6 1611.4 L656.1 1611.4 L658.7 1611.4 L661.2 1611.4 L663.7 1611.4 L666.2 1611.4 L668.7 1611.4 L671.2 1611.5 L673.7 1611.5 L676.2 1611.5 L678.7 1611.6 L681.2 1611.6 L683.8 1611.7 L686.3 1611.7 L688.8 1611.8 L691.3 1611.9 L693.8 1611.9 L696.3 1612 L698.8 1612.1 L701.3 1612.2 L703.8 1612.3 L706.3 1612.4 L708.8 1612.5 L711.4 1612.6 L713.9 1612.8 L716.4 1612.9 L718.9 1613.1 L721.4 1613.2 L723.9 1613.4 L726.4 1613.5 L728.9 1613.7 L731.4 1613.9 L733.9 1614 L736.4 1614.2 L738.9 1614.4 L741.4 1614.6 L743.9 1614.8 L746.4 1615 L748.9 1615.2 L751.4 1615.4 L753.9 1615.7 L756.4 1615.9 L759 1616.1 L761.5 1616.4 L764 1616.6 L766.5 1616.9 L769 1617.1 L771.5 1617.4 L774 1617.6 L776.5 1617.9 L779 1618.2 L781.5 1618.4 L784 1618.7 L786.5 1619 L789 1619.3 L791.5 1619.6 L794 1619.9 L796.5 1620.2 L799 1620.5 L801.5 1620.8 L804 1621.1 L806.5 1621.4 L809 1621.7 L811.5 1622 L814 1622.3 L816.5 1622.7 L819 1623 L821.4 1623.3 L823.9 1623.6 L826.4 1624 L828.9 1624.3 L831.4 1624.7 L833.9 1625 L836.4 1625.3 L838.9 1625.7 L841.4 1626 L843.9 1626.4 L846.4 1626.7 L848.9 1627.1 L851.4 1627.4 L853.9 1627.8 L856.4 1628.1 L858.9 1628.5 L861.4 1628.8 L863.9 1629.2 L866.4 1629.5 L868.9 1629.9 L871.4 1630.3 L873.9 1630.6 L876.4 1631 L878.8 1631.3 L881.3 1631.7 L883.8 1632.1 L886.3 1632.4 L888.8 1632.8 L891.3 1633.1 L893.8 1633.5 L896.3 1633.9 L898.8 1634.2 L901.3 1634.6 L903.8 1634.9 L906.3 1635.3 L908.8 1635.7 L911.3 1636 L913.8 1636.4 L916.2 1636.7 L918.7 1637.1 L921.2 1637.4 L923.7 1637.8 L926.2 1638.1 L928.7 1638.5 L931.2 1638.8 L933.7 1639.2 L936.2 1639.5 L938.7 1639.9 L941.2 1640.2 L943.7 1640.5 L946.2 1640.9 L948.7 1641.2 L951.2 1641.6 L953.6 1641.9 L956.1 1642.2 L958.6 1642.6 L961.1 1642.9 L963.6 1643.2 L966.1 1643.5 L968.6 1643.9 L971.1 1644.2 L973.6 1644.5 L976.1 1644.8 L978.6 1645.1 L981.1 1645.4 L983.6 1645.7 L986.1 1646 L988.6 1646.3 L991.1 1646.6 L993.5 1646.9 L996 1647.2 L998.5 1647.5 L1001 1647.8 L1003.5 1648.1 L1006 1648.4 L1008.5 1648.7 L1011 1648.9 L1013.5 1649.2 L1016 1649.5 L1018.5 1649.7 L1021 1650 L1023.5 1650.3 L1026 1650.5 L1028.5 1650.8 L1031 1651 L1033.5 1651.3 L1036 1651.5 L1130.8 1651.6 L1130.8 2145.1 L1047.8 2145.1 L1045.4 2144.2 L1043.1 2143.4 L1040.7 2142.5 L1038.4 2141.5 L1036 2140.6 L1033.7 2139.6 L1031.4 2138.7 L1029.1 2137.7 L1026.8 2136.6 L1024.5 2135.6 L1022.3 2134.6 L1020 2133.5 L1017.7 2132.4 L1015.5 2131.3 L1013.2 2130.2 L1011 2129.1 L1008.8 2128 L1006.5 2126.8 L1004.3 2125.7 L1002.1 2124.5 L999.9 2123.3 L997.7 2122.1 L995.5 2120.9 L993.3 2119.7 L991.1 2118.4 L989 2117.2 L986.8 2116 L984.6 2114.7 L982.4 2113.4 L980.3 2112.2 L978.1 2110.9 L976 2109.6 L973.8 2108.3 L971.7 2107 L969.5 2105.7 L967.4 2104.4 L965.3 2103.1 L963.1 2101.7 L961 2100.4 L958.8 2099.1 L956.7 2097.7 L954.6 2096.4 L952.5 2095.1 L950.3 2093.7 L948.2 2092.4 L946.1 2091 L944 2089.7 L941.8 2088.4 L939.7 2087 L937.6 2085.7 L935.4 2084.3 L933.3 2083 L931.2 2081.6 L929.1 2080.3 L926.9 2079 L924.8 2077.6 L922.7 2076.3 L920.5 2075 L918.4 2073.6 L916.3 2072.3 L914.1 2071 L912 2069.7 L909.9 2068.3 L907.7 2067 L905.6 2065.7 L903.4 2064.4 L901.3 2063.1 L899.1 2061.8 L897 2060.5 L894.8 2059.2 L892.7 2058 L890.5 2056.7 L888.3 2055.4 L886.2 2054.2 L884 2052.9 L881.8 2051.6 L879.6 2050.4 L877.4 2049.2 L875.3 2047.9 L873.1 2046.7 L870.9 2045.5 L868.7 2044.3 L866.5 2043.1 L864.3 2041.9 L862.1 2040.7 L859.9 2039.5 L857.7 2038.3 L855.4 2037.1 L853.2 2036 L851 2034.8 L848.8 2033.6 L846.6 2032.5 L844.4 2031.3 L842.1 2030.2 L839.9 2029 L837.7 2027.9 L835.4 2026.7 L833.2 2025.6 L831 2024.5 L828.7 2023.3 L826.5 2022.2 L824.2 2021.1 L822 2020 L819.8 2018.8 L817.5 2017.7 L815.3 2016.6 L813 2015.5 L810.8 2014.4 L808.5 2013.3 L806.3 2012.2 L804 2011.1 L801.8 2010 L799.5 2008.9 L797.2 2007.8 L795 2006.7 L792.7 2005.6 L790.5 2004.5 L788.2 2003.4 L786 2002.4 L783.7 2001.3 L781.4 2000.2 L779.2 1999.1 L776.9 1998 L774.6 1996.9 L772.4 1995.8 L770.1 1994.8 L767.9 1993.7 L765.6 1992.6 L763.3 1991.5 L761.1 1990.4 L758.8 1989.3 L756.6 1988.2 L754.3 1987.1 L752 1986.1 L749.8 1985 L747.5 1983.9 L745.2 1982.8 L743 1981.7 L740.7 1980.6 L738.5 1979.5 L736.2 1978.4 L734 1977.3 L731.7 1976.2 L729.5 1975.1 L727.2 1974 L724.9 1972.9 L722.7 1971.8 L720.4 1970.6 L718.2 1969.5 L716 1968.4 L713.7 1967.3 L711.5 1966.1 L709.2 1965 L707 1963.9 L704.7 1962.7 L702.5 1961.6 L700.3 1960.4 L698 1959.3 L695.8 1958.1 L693.6 1957 L691.4 1955.8 L689.1 1954.7 L686.9 1953.5 L684.7 1952.3 L682.5 1951.1 L680.2 1950 L678 1948.8 L675.8 1947.6 L673.6 1946.4 L671.4 1945.2 L669.2 1944 L667 1942.8 L664.7 1941.6 L662.5 1940.4 L660.3 1939.2 L658.1 1938 L655.9 1936.8 L653.7 1935.6 L651.5 1934.4 L649.3 1933.2 L647.1 1931.9 L644.9 1930.7 L642.8 1929.5 L640.6 1928.3 L638.4 1927 L636.2 1925.8 L634 1924.6 L631.8 1923.4 L629.6 1922.1 L627.4 1920.9 L625.3 1919.6 L623.1 1918.4 L620.9 1917.2 L618.7 1915.9 L616.6 1914.7 L614.4 1913.4 L612.2 1912.2 L610 1910.9 L607.9 1909.7 L605.7 1908.4 L603.5 1907.2 L601.4 1905.9 L599.2 1904.7 L597 1903.4 L594.9 1902.2 L592.7 1900.9 L590.5 1899.6 L588.4 1898.4 L586.2 1897.1 L584.1 1895.9 L581.9 1894.6 L579.8 1893.4 L577.6 1892.1 L575.4 1890.8 L573.3 1889.6 L571.1 1888.3 L569 1887 L566.8 1885.8 L564.7 1884.5 L562.5 1883.3 L560.4 1882 L558.3 1880.7 L556.1 1879.4 L554 1878.2 L551.8 1876.9 L549.7 1875.6 L547.5 1874.3 L545.4 1873 L543.3 1871.8 L541.1 1870.5 L539 1869.2 L536.9 1867.9 L534.7 1866.6 L532.6 1865.3 L530.5 1864 L528.3 1862.6 L526.2 1861.3 L524.1 1860 L522 1858.7 L519.8 1857.3 L517.7 1856 L515.6 1854.7 L513.5 1853.3 L511.3 1852 L509.2 1850.6 L507.1 1849.3 L505 1847.9 L502.9 1846.5 L500.7 1845.2 L498.6 1843.8 L496.5 1842.4 L494.4 1841 L492.3 1839.6 L490.2 1838.2 L488 1836.9 L485.9 1835.5 L483.8 1834.1 L481.7 1832.7 L479.6 1831.3 L477.4 1829.9 L475.3 1828.6 L473.2 1827.2 L471 1825.8 L468.9 1824.4 L466.8 1823.1 L464.6 1821.7 L462.5 1820.3 L460.4 1819 L458.2 1817.6 L456.1 1816.3 L453.9 1815 L451.8 1813.6 L449.6 1812.3 L447.5 1811 L445.3 1809.7 L443.1 1808.4 L441 1807.1 L438.8 1805.8 L436.6 1804.6 L434.4 1803.3 L432.3 1802.1 L430.1 1800.9 L427.9 1799.6 L425.7 1798.4 L423.5 1797.2 L421.2 1796.1 L419 1794.9 L416.8 1793.8 L414.6 1792.6 L412.3 1791.5 L410.1 1790.4 L407.9 1789.3 L405.6 1788.2 L403.3 1787.2 L401.1 1786.2 L398.8 1785.1 L396.5 1784.1 L394.2 1783.2 L391.9 1782.2 L389.6 1781.3 L387.3 1780.4 L385 1779.5 L382.7 1778.6 L380.3 1777.7 L378 1776.9 L375.6 1776.1 L373.3 1775.3 L370.9 1774.6 L368.5 1773.8 L366.2 1773.1 L363.8 1772.5 L361.4 1771.8 L359 1771.2 L356.5 1770.6 L354.1 1770 L351.7 1769.5 L349.2 1769 L346.8 1768.5 L344.4 1768.1 L341.9 1767.7 L339.4 1767.4 L337 1767 L334.5 1766.7 L332 1766.5 L329.5 1766.3 L327.1 1766.1 L324.6 1766 L322.1 1765.9 L319.6 1765.9 L317.1 1765.9 L314.6 1765.9 L312.1 1766 L309.6 1766.2 L307 1766.3 L304.5 1766.6 L302 1766.9 L299.5 1767.2 L297 1767.6 L294.4 1768 L291.9 1768.5 L291.9 1768.5 L290.9 1779.3 L290.1 1790 L289.2 1800.8 L288.4 1811.6 L287.7 1822.4 L287 1833.2 L286.4 1844 L285.7 1854.8 L285.2 1865.6 L284.6 1876.4 L284.1 1887.3 L283.7 1898.1 L283.2 1908.9 L282.8 1919.8 L282.4 1930.6 L282.1 1941.4 L281.7 1952.3 L281.4 1963.1 L281.1 1974 L280.8 1984.8 L280.5 1995.7 L280.2 2006.5 L279.9 2017.4 L279.6 2028.2 L279.3 2039.1 L279 2049.9 L278.7 2060.8 L278.4 2071.6 L278.1 2082.5 L277.7 2093.3 L277.4 2104.2 L277 2115 L276.6 2125.8 L276.2 2136.7 L275.8 2147.5 L275.3 2158.3 L274.8 2169.2 L274.3 2180 L273.7 2190.8 Z" fill="#0000fe"/>
<line x1="196" y1="2009.5" x2="271" y2="2009.5" stroke="#c4104c" stroke-width="3.6" stroke-linecap="round"/>
<path d="M271 2009.5 L272.5 2000 L273.8 1990.5 L275 1981 L276 1971.5 L276.9 1961.9 L277.7 1952.3 L278.3 1942.8 L278.9 1933.2 L279.4 1923.6 L279.8 1914 L280.1 1904.4 L280.4 1894.8 L280.6 1885.2 L280.8 1875.6 L281 1866 L281.2 1856.3 L281.4 1846.7 L281.7 1837.1 L282 1827.5 L282.3 1817.9 L282.7 1808.3 L283.1 1798.7 L283.6 1789.1 L284.3 1779.5 L285 1770 L285.9 1760.4 L286.9 1750.8 L288 1741.3 L289.3 1731.8 L289.3 1731.8 L291.1 1730.2 L292.9 1728.8 L295 1727.6 L297.1 1726.5 L299.3 1725.6 L301.6 1724.8 L304 1724.1 L306.4 1723.5 L308.9 1723 L311.4 1722.5 L313.9 1722.1 L316.5 1721.6 L319.1 1721.2 L321.6 1720.8 L324.2 1720.4 L326.7 1719.9 L329.2 1719.5 L331.8 1719 L334.3 1718.5 L336.8 1718.1 L339.2 1717.6 L341.7 1717.1 L344.2 1716.6 L346.7 1716.1 L349.1 1715.7 L351.6 1715.2 L354.1 1714.8 L356.5 1714.4 L359 1714 L361.4 1713.6 L363.9 1713.2 L366.3 1712.9 L368.8 1712.6 L371.3 1712.3 L373.7 1712.1 L376.2 1711.9 L378.7 1711.7 L381.2 1711.6 L383.7 1711.5 L386.2 1711.5 L388.7 1711.5 L391.2 1711.5 L393.7 1711.6 L396.3 1711.8 L398.8 1712 L401.3 1712.2 L403.8 1712.5 L406.4 1712.8 L408.9 1713.2 L411.4 1713.6 L413.9 1714.1 L416.3 1714.6 L418.8 1715.1 L421.2 1715.7 L423.7 1716.3 L426.1 1717 L428.5 1717.6 L430.9 1718.3 L433.3 1719 L435.7 1719.7 L438.1 1720.4 L440.6 1721 L443 1721.7 L445.4 1722.3 L447.8 1723 L450.2 1723.6 L452.7 1724.2 L455.1 1724.9 L457.5 1725.5 L460 1726.1 L462.4 1726.7 L464.8 1727.3 L467.3 1727.9 L469.7 1728.4 L472.2 1729 L474.6 1729.6 L477.1 1730.2 L479.5 1730.7 L482 1731.3 L484.4 1731.9 L486.9 1732.4 L489.3 1733 L491.8 1733.6 L494.2 1734.1 L496.7 1734.7 L499.1 1735.3 L501.6 1735.8 L504 1736.4 L506.4 1737 L508.9 1737.6 L511.3 1738.2 L513.8 1738.7 L516.2 1739.3 L518.7 1739.9 L521.1 1740.5 L523.5 1741.1 L526 1741.7 L528.4 1742.3 L530.9 1742.9 L533.3 1743.5 L535.7 1744.1 L538.2 1744.8 L540.6 1745.4 L543 1746 L545.5 1746.6 L547.9 1747.2 L550.3 1747.9 L552.8 1748.5 L555.2 1749.1 L557.6 1749.7 L560.1 1750.4 L562.5 1751 L564.9 1751.6 L567.4 1752.3 L569.8 1752.9 L572.2 1753.5 L574.6 1754.2 L577.1 1754.8 L579.5 1755.4 L581.9 1756.1 L584.4 1756.7 L586.8 1757.4 L589.2 1758 L591.6 1758.7 L594.1 1759.3 L596.5 1759.9 L598.9 1760.6 L601.3 1761.2 L603.8 1761.9 L606.2 1762.5 L608.6 1763.2 L611.1 1763.8 L613.5 1764.5 L615.9 1765.1 L618.3 1765.8 L620.8 1766.4 L623.2 1767 L625.6 1767.7 L628 1768.3 L630.5 1769 L632.9 1769.6 L635.3 1770.3 L637.8 1770.9 L640.2 1771.5 L642.6 1772.2 L645 1772.8 L647.5 1773.5 L649.9 1774.1 L652.3 1774.7 L654.8 1775.4 L657.2 1776 L659.6 1776.6 L662 1777.3 L664.5 1777.9 L666.9 1778.5 L669.3 1779.1 L671.8 1779.8 L674.2 1780.4 L676.6 1781 L679.1 1781.6 L681.5 1782.3 L684 1782.9 L686.4 1783.5 L688.8 1784.1 L691.3 1784.7 L693.7 1785.3 L696.1 1785.9 L698.6 1786.5 L701 1787.1 L703.5 1787.7 L705.9 1788.3 L708.3 1788.9 L710.8 1789.6 L713.2 1790.2 L715.7 1790.8 L718.1 1791.4 L720.5 1792 L723 1792.6 L725.4 1793.2 L727.8 1793.8 L730.3 1794.4 L732.7 1795.1 L735.2 1795.7 L737.6 1796.3 L740 1796.9 L742.5 1797.6 L744.9 1798.2 L747.3 1798.8 L749.7 1799.5 L752.2 1800.1 L754.6 1800.8 L757 1801.5 L759.4 1802.1 L761.9 1802.8 L764.3 1803.5 L766.7 1804.1 L769.1 1804.8 L771.5 1805.5 L773.9 1806.2 L776.3 1806.9 L778.7 1807.6 L781.1 1808.4 L783.5 1809.1 L785.9 1809.8 L788.3 1810.6 L790.7 1811.3 L793.1 1812.1 L795.5 1812.9 L797.9 1813.6 L800.3 1814.4 L802.7 1815.2 L805.1 1816 L807.4 1816.8 L809.8 1817.6 L812.2 1818.4 L814.6 1819.2 L817 1820 L819.3 1820.8 L821.7 1821.6 L824.1 1822.5 L826.4 1823.3 L828.8 1824.1 L831.2 1825 L833.5 1825.8 L835.9 1826.7 L838.3 1827.5 L840.6 1828.4 L843 1829.3 L845.3 1830.1 L847.7 1831 L850.1 1831.8 L852.4 1832.7 L854.8 1833.6 L857.1 1834.5 L859.5 1835.3 L861.9 1836.2 L864.2 1837.1 L866.6 1838 L868.9 1838.8 L871.3 1839.7 L873.6 1840.6 L876 1841.5 L878.3 1842.4 L880.7 1843.2 L883 1844.1 L885.4 1845 L887.8 1845.9 L890.1 1846.8 L892.5 1847.6 L894.8 1848.5 L897.2 1849.4 L899.5 1850.3 L901.9 1851.2 L904.2 1852 L906.6 1852.9 L909 1853.8 L911.3 1854.6 L913.7 1855.5 L916 1856.4 L918.4 1857.2 L920.8 1858.1 L923.1 1858.9 L925.5 1859.8 L927.9 1860.6 L930.2 1861.5 L932.6 1862.3 L935 1863.1 L937.3 1864 L939.7 1864.8 L942.1 1865.6 L944.5 1866.4 L946.8 1867.2 L949.2 1868 L951.6 1868.8 L954 1869.6 L956.4 1870.4 L958.7 1871.2 L961.1 1872 L963.5 1872.8 L965.9 1873.5 L968.3 1874.3 L970.7 1875 L973.1 1875.8 L975.5 1876.5 L977.9 1877.3 L980.3 1878 L982.7 1878.7 L985.1 1879.5 L987.5 1880.2 L989.9 1880.9 L992.3 1881.7 L994.7 1882.4 L997.1 1883.1 L999.5 1883.9 L1001.9 1884.6 L1004.3 1885.3 L1006.7 1886.1 L1009.1 1886.8 L1011.5 1887.5 L1013.9 1888.3 L1016.3 1889 L1018.7 1889.8 L1021.1 1890.6 L1023.5 1891.3 L1025.8 1892.1 L1028.2 1892.9 L1030.6 1893.7 L1033 1894.5 L1035.4 1895.3 L1037.8 1896.1 L1040.1 1896.9 L1042.5 1897.7 L1044.9 1898.6 L1047.2 1899.4 L1049.6 1900.3" fill="none" stroke="#dc0f3c" stroke-width="3" stroke-linecap="round" stroke-linejoin="round"/>
<line x1="1049.6" y1="1900.3" x2="1128.5" y2="1900.3" stroke="#c4104c" stroke-width="3.4" stroke-linecap="round"/>
<g stroke="#111" stroke-width="2.2" fill="none"><path d="M187.7 14v8.5M187.7 646.7v-8.5M294.2 14v8.5M294.2 646.7v-8.5M402.8 14v8.5M402.8 646.7v-8.5M509.6 14v8.5M509.6 646.7v-8.5M616.7 14v8.5M616.7 646.7v-8.5M724.8 14v8.5M724.8 646.7v-8.5M831.6 14v8.5M831.6 646.7v-8.5M938.7 14v8.5M938.7 646.7v-8.5M1045.4 14v8.5M1045.4 646.7v-8.5M1153.9 14v8.5M1153.9 646.7v-8.5M149.1 619.6h8.5M1177.3 619.6h-8.5M149.1 561.8h8.5M1177.3 561.8h-8.5M149.1 503.9h8.5M1177.3 503.9h-8.5M149.1 446.1h8.5M1177.3 446.1h-8.5M149.1 388.2h8.5M1177.3 388.2h-8.5M149.1 330.4h8.5M1177.3 330.4h-8.5M149.1 272.6h8.5M1177.3 272.6h-8.5M149.1 214.7h8.5M1177.3 214.7h-8.5M149.1 156.9h8.5M1177.3 156.9h-8.5M149.1 99h8.5M1177.3 99h-8.5M149.1 41.2h8.5M1177.3 41.2h-8.5"/><rect x="149.1" y="14" width="1028.2" height="632.7"/></g>
<g font-family="'Liberation Sans', Arial, Helvetica, sans-serif" font-size="25.8" letter-spacing="0.4" fill="#161616" stroke="#161616" stroke-width="0.2"><text transform="translate(140.3 631.1) scale(0.9 1)" text-anchor="end">0.0</text><text transform="translate(140.3 573.3) scale(0.9 1)" text-anchor="end">0.1</text><text transform="translate(140.3 515.4) scale(0.9 1)" text-anchor="end">0.2</text><text transform="translate(140.3 457.6) scale(0.9 1)" text-anchor="end">0.3</text><text transform="translate(140.3 399.7) scale(0.9 1)" text-anchor="end">0.4</text><text transform="translate(140.3 341.9) scale(0.9 1)" text-anchor="end">0.5</text><text transform="translate(140.3 284.1) scale(0.9 1)" text-anchor="end">0.6</text><text transform="translate(140.3 226.2) scale(0.9 1)" text-anchor="end">0.7</text><text transform="translate(140.3 168.4) scale(0.9 1)" text-anchor="end">0.8</text><text transform="translate(140.3 110.5) scale(0.9 1)" text-anchor="end">0.9</text><text transform="translate(140.3 52.7) scale(0.9 1)" text-anchor="end">1.0</text><text transform="translate(187.7 683.9) scale(0.9 1)" text-anchor="middle">100</text><text transform="translate(294.2 683.9) scale(0.9 1)" text-anchor="middle">200</text><text transform="translate(402.8 683.9) scale(0.9 1)" text-anchor="middle">300</text><text transform="translate(509.6 683.9) scale(0.9 1)" text-anchor="middle">400</text><text transform="translate(616.7 683.9) scale(0.9 1)" text-anchor="middle">500</text><text transform="translate(724.8 683.9) scale(0.9 1)" text-anchor="middle">600</text><text transform="translate(831.6 683.9) scale(0.9 1)" text-anchor="middle">700</text><text transform="translate(938.7 683.9) scale(0.9 1)" text-anchor="middle">800</text><text transform="translate(1045.4 683.9) scale(0.9 1)" text-anchor="middle">900</text><text transform="translate(1153.9 683.9) scale(0.9 1)" text-anchor="middle">1000</text></g>
<g stroke="#111" stroke-width="2.2" fill="none"><path d="M255.4 793.6v8.5M255.4 1432.3v-8.5M399.4 793.6v8.5M399.4 1432.3v-8.5M544.7 793.6v8.5M544.7 1432.3v-8.5M688.3 793.6v8.5M688.3 1432.3v-8.5M831.9 793.6v8.5M831.9 1432.3v-8.5M977.4 793.6v8.5M977.4 1432.3v-8.5M1121.1 793.6v8.5M1121.1 1432.3v-8.5M149.1 1404.8h8.5M1177.2 1404.8h-8.5M149.1 1342.3h8.5M1177.2 1342.3h-8.5M149.1 1279.9h8.5M1177.2 1279.9h-8.5M149.1 1217.4h8.5M1177.2 1217.4h-8.5M149.1 1155h8.5M1177.2 1155h-8.5M149.1 1092.5h8.5M1177.2 1092.5h-8.5M149.1 1030.1h8.5M1177.2 1030.1h-8.5M149.1 967.6h8.5M1177.2 967.6h-8.5M149.1 905.2h8.5M1177.2 905.2h-8.5M149.1 842.7h8.5M1177.2 842.7h-8.5"/><rect x="149.1" y="793.6" width="1028.1" height="638.7"/></g>
<g font-family="'Liberation Sans', Arial, Helvetica, sans-serif" font-size="25.8" letter-spacing="0.4" fill="#161616" stroke="#161616" stroke-width="0.2"><text transform="translate(140.3 1416.3) scale(0.9 1)" text-anchor="end">0.0</text><text transform="translate(140.3 1353.8) scale(0.9 1)" text-anchor="end">0.1</text><text transform="translate(140.3 1291.4) scale(0.9 1)" text-anchor="end">0.2</text><text transform="translate(140.3 1228.9) scale(0.9 1)" text-anchor="end">0.3</text><text transform="translate(140.3 1166.5) scale(0.9 1)" text-anchor="end">0.4</text><text transform="translate(140.3 1104) scale(0.9 1)" text-anchor="end">0.5</text><text transform="translate(140.3 1041.6) scale(0.9 1)" text-anchor="end">0.6</text><text transform="translate(140.3 979.1) scale(0.9 1)" text-anchor="end">0.7</text><text transform="translate(140.3 916.7) scale(0.9 1)" text-anchor="end">0.8</text><text transform="translate(140.3 854.2) scale(0.9 1)" text-anchor="end">0.9</text><text transform="translate(255.4 1469.5) scale(0.9 1)" text-anchor="middle">0</text><text transform="translate(399.4 1469.5) scale(0.9 1)" text-anchor="middle">50</text><text transform="translate(544.7 1469.5) scale(0.9 1)" text-anchor="middle">100</text><text transform="translate(688.3 1469.5) scale(0.9 1)" text-anchor="middle">150</text><text transform="translate(831.9 1469.5) scale(0.9 1)" text-anchor="middle">200</text><text transform="translate(977.4 1469.5) scale(0.9 1)" text-anchor="middle">250</text><text transform="translate(1121.1 1469.5) scale(0.9 1)" text-anchor="middle">300</text></g>
<g stroke="#111" stroke-width="2.2" fill="none"><path d="M272.9 1582.7v8.5M272.9 2218v-8.5M403.4 1582.7v8.5M403.4 2218v-8.5M534.8 1582.7v8.5M534.8 2218v-8.5M666.9 1582.7v8.5M666.9 2218v-8.5M799 1582.7v8.5M799 2218v-8.5M929.5 1582.7v8.5M929.5 2218v-8.5M1061.4 1582.7v8.5M1061.4 2218v-8.5M149 2176.8h8.5M1176.8 2176.8h-8.5M149 2103.2h8.5M1176.8 2103.2h-8.5M149 2029.7h8.5M1176.8 2029.7h-8.5M149 1956.2h8.5M1176.8 1956.2h-8.5M149 1882.6h8.5M1176.8 1882.6h-8.5M149 1809.1h8.5M1176.8 1809.1h-8.5M149 1735.5h8.5M1176.8 1735.5h-8.5M149 1662h8.5M1176.8 1662h-8.5M149 1588.4h8.5M1176.8 1588.4h-8.5"/><rect x="149" y="1582.7" width="1027.8" height="635.3"/></g>
<g font-family="'Liberation Sans', Arial, Helvetica, sans-serif" font-size="25.8" letter-spacing="0.4" fill="#161616" stroke="#161616" stroke-width="0.2"><text transform="translate(140.3 2188.3) scale(0.9 1)" text-anchor="end">0.2</text><text transform="translate(140.3 2114.8) scale(0.9 1)" text-anchor="end">0.3</text><text transform="translate(140.3 2041.2) scale(0.9 1)" text-anchor="end">0.4</text><text transform="translate(140.3 1967.7) scale(0.9 1)" text-anchor="end">0.5</text><text transform="translate(140.3 1894.1) scale(0.9 1)" text-anchor="end">0.6</text><text transform="translate(140.3 1820.6) scale(0.9 1)" text-anchor="end">0.7</text><text transform="translate(140.3 1747) scale(0.9 1)" text-anchor="end">0.8</text><text transform="translate(140.3 1673.5) scale(0.9 1)" text-anchor="end">0.9</text><text transform="translate(140.3 1599.9) scale(0.9 1)" text-anchor="end">1.0</text><text transform="translate(272.9 2254.9) scale(0.9 1)" text-anchor="middle">0</text><text transform="translate(403.4 2254.9) scale(0.9 1)" text-anchor="middle">200</text><text transform="translate(534.8 2254.9) scale(0.9 1)" text-anchor="middle">400</text><text transform="translate(666.9 2254.9) scale(0.9 1)" text-anchor="middle">600</text><text transform="translate(799 2254.9) scale(0.9 1)" text-anchor="middle">800</text><text transform="translate(929.5 2254.9) scale(0.9 1)" text-anchor="middle">1000</text><text transform="translate(1061.4 2254.9) scale(0.9 1)" text-anchor="middle">1200</text></g>
<g font-family="'Liberation Sans', Arial, Helvetica, sans-serif" fill="#000">
<text x="649.3" y="737.3" font-size="44.2" text-anchor="middle">Bio18 (mm)</text>
<text x="651.3" y="1517.6" font-size="44.7" text-anchor="middle">prec_wsum (mm)</text>
<text x="652.9" y="2305" font-size="44.3" text-anchor="middle">slope (degrees x 100)</text>
<text transform="translate(38 1097.4) rotate(-90)" font-size="44.5" text-anchor="middle">Probability of presence (logistic output)</text>
</g>
</svg>
</body></html>
